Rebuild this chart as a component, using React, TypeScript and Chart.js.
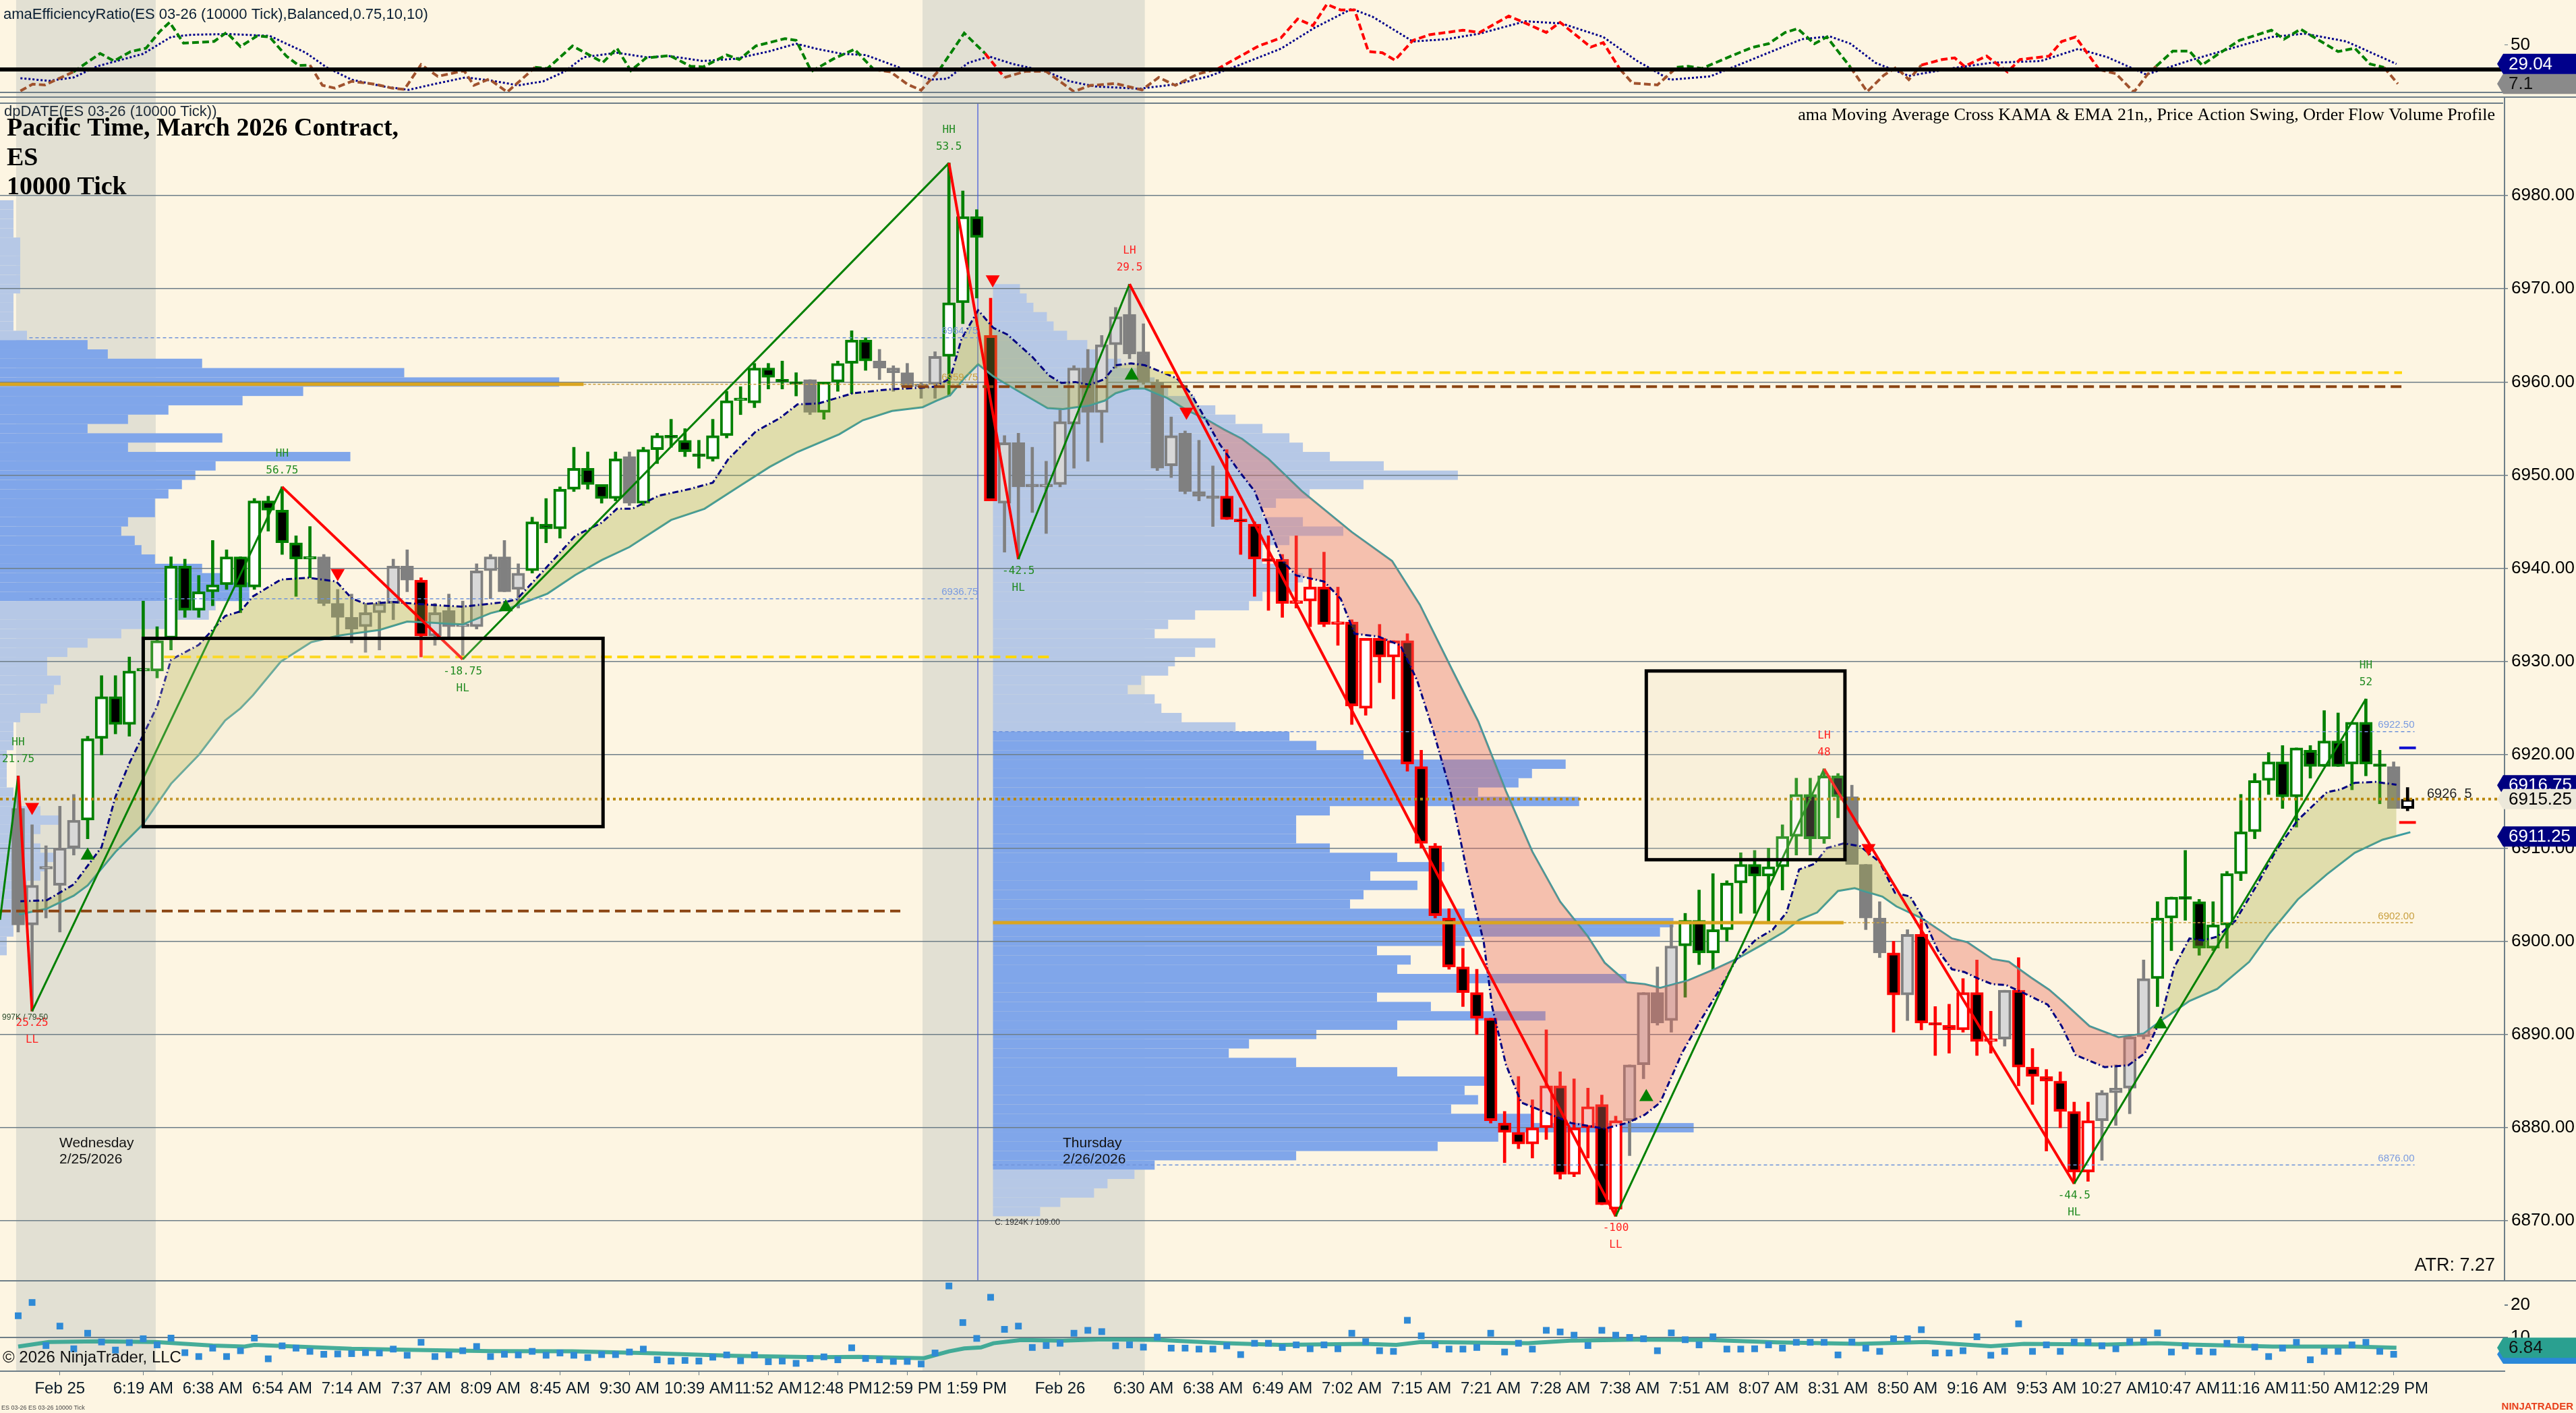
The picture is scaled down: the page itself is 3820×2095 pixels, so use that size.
import React, { useEffect, useRef } from 'react';
import Chart from 'chart.js/auto';

Chart.defaults.font.family = "'Liberation Sans', Arial, sans-serif";

const W = 3820;
const AXIS_W = 106;
const X_MIN = -1.31;
const X_MAX = 178.98;
const BG = '#fdf5e2';
const BAND = '#e2e0d3';
const GRID = '#6e7e88';
const GREEN = '#008000';
const RED = '#ff0000';

// ---- candles (10000 tick bars, ES 03-26) ----
const OPEN = [
  6914.25, 6901.75, 6907.75, 6906, 6910, 6913, 6921.75, 6926.25, 6923.25, 6929,
  6929, 6932.5, 6940.25, 6935.5, 6937.5, 6938.25, 6941.25, 6938, 6947.25, 6946.25,
  6942.75, 6941, 6941.25, 6936.25, 6934.75, 6933.75, 6935.25, 6936.25, 6940.25, 6938.75,
  6932.75, 6935.5, 6933.75, 6933.75, 6939.75, 6941.25, 6937.75, 6939.75, 6944.75, 6944.25,
  6948.5, 6950.75, 6949, 6947.5, 6952, 6947, 6952.75, 6954.25, 6953.75, 6952.25,
  6951.75, 6954.25, 6958, 6957.75, 6961.5, 6960.25, 6960, 6960.25, 6956.75, 6960,
  6962, 6964.5, 6962.25, 6961.5, 6961, 6959.5, 6959.75, 6962.75, 6968.5, 6977.75,
  6965, 6947, 6953.5, 6949, 6948.75, 6949, 6955.5, 6961.5, 6956.75, 6964,
  6967.25, 6963.25, 6960, 6951, 6954.5, 6948.25, 6947.75, 6947.75, 6945.25, 6944.75,
  6941, 6941, 6936.25, 6936.5, 6938, 6934, 6934.25, 6925, 6932.5, 6930.5,
  6932.25, 6918.75, 6910.25, 6902.5, 6897.25, 6894.5, 6891.75, 6880.5, 6879.5, 6878.25,
  6880, 6884.5, 6875, 6880, 6882.5, 6871.25, 6880.75, 6886.75, 6894.5, 6891.5,
  6899.5, 6902.25, 6898.75, 6901.25, 6906.25, 6908.25, 6907, 6908, 6911.25, 6915.75,
  6911, 6917.75, 6915.5, 6908.25, 6902.5, 6898.75, 6894.25, 6900.75, 6891.25, 6891,
  6890.5, 6894.5, 6889.25, 6889.5, 6894.75, 6886.5, 6885.5, 6885, 6881.75, 6875.25,
  6880.75, 6883.75, 6884.25, 6889.75, 6896, 6902.5, 6904.75, 6904.25, 6899.25, 6901.75,
  6907.25, 6911.75, 6917.25, 6919.25, 6915.5, 6920.5, 6918.75, 6921.5, 6919, 6923.5,
  6919, 6918.75, 6914.25,
];
const HIGH = [
  6917.75, 6912.5, 6910.25, 6914.5, 6915.75, 6922, 6928.5, 6928.5, 6930.5, 6936.5,
  6933.75, 6941.25, 6941, 6939.25, 6943, 6942, 6941.25, 6947.5, 6947.75, 6948.75,
  6943.5, 6944.5, 6941.5, 6937.75, 6937.25, 6936.25, 6936.5, 6941, 6942, 6939,
  6936.25, 6937.25, 6936.5, 6940.5, 6941.5, 6943, 6940.5, 6945.5, 6947.5, 6948.75,
  6953, 6952.5, 6949, 6952.5, 6952.5, 6953, 6954.5, 6956, 6955, 6953.75,
  6956, 6959, 6959.5, 6962, 6962, 6962.25, 6961, 6960.25, 6960, 6962.25,
  6965.5, 6964.75, 6963.5, 6961.75, 6962, 6960, 6963.25, 6983.5, 6980.5, 6978.5,
  6969, 6954.25, 6954.5, 6953, 6951.5, 6957, 6961.75, 6963.5, 6965, 6968,
  6970.5, 6966.25, 6960.25, 6956.25, 6954.75, 6953.75, 6951, 6952.75, 6946.5, 6945,
  6943.5, 6941.5, 6943.5, 6940, 6941.75, 6938, 6934.5, 6932.5, 6934, 6932.25,
  6933, 6920.5, 6910.5, 6903.5, 6899.25, 6897, 6891.75, 6881.75, 6885.5, 6883,
  6890.5, 6886, 6885.25, 6884.25, 6883.5, 6881.25, 6886.75, 6894.5, 6897.25, 6901.75,
  6903, 6905.5, 6907.25, 6906.5, 6909.5, 6909.75, 6910, 6912.5, 6917.5, 6917.5,
  6918.5, 6918, 6916.75, 6908.25, 6904.25, 6900, 6901.25, 6902.5, 6893, 6893.25,
  6896, 6898, 6892.5, 6894.75, 6898.25, 6888.5, 6886.25, 6886, 6882.75, 6882.75,
  6884, 6886.75, 6890, 6898, 6904.25, 6904.75, 6909.75, 6904.5, 6904.25, 6907.5,
  6915.75, 6918, 6920.25, 6921, 6920.75, 6921, 6924.75, 6924.5, 6923.5, 6926,
  6920.5, 6919.25, 6916.5,
];
const LOW = [
  6901, 6892.5, 6902.5, 6901, 6909.25, 6911, 6920, 6922.25, 6922, 6928.5,
  6928.25, 6931.25, 6934.75, 6934.75, 6936, 6937.75, 6935.25, 6937.75, 6944, 6941.5,
  6937, 6939, 6936, 6932.75, 6932, 6931, 6931.25, 6934.5, 6937.5, 6930.5,
  6931.75, 6932.5, 6930.25, 6933.5, 6936.75, 6937.5, 6935.75, 6939.5, 6942.75, 6943.25,
  6948.25, 6948.5, 6947, 6947.25, 6946.75, 6946.75, 6951.25, 6953, 6952, 6950.75,
  6951.5, 6954, 6956.5, 6957.25, 6959.25, 6959.25, 6958.5, 6956.5, 6956, 6959,
  6958.75, 6961.25, 6960.25, 6959, 6959.25, 6958.25, 6958.25, 6958.5, 6966.25, 6969,
  6947.25, 6941.75, 6941, 6946, 6943.75, 6948.75, 6950.75, 6951.5, 6953.5, 6961.5,
  6962.5, 6959.75, 6950.5, 6949.75, 6948, 6947.25, 6944.5, 6945.25, 6941.5, 6937,
  6935.5, 6934.75, 6935.75, 6933.75, 6933.75, 6931.75, 6923.25, 6924.25, 6927.75, 6926,
  6918.25, 6910, 6902.5, 6897, 6893, 6890, 6880.5, 6876.25, 6877.75, 6876.75,
  6878.75, 6874.5, 6874.75, 6876.75, 6871.75, 6870.5, 6877, 6885.25, 6891, 6890.25,
  6894, 6897.5, 6897, 6900, 6903, 6903, 6902, 6905.5, 6909.25, 6909.25,
  6910.5, 6913.25, 6908.25, 6901.25, 6898.25, 6890.25, 6891.5, 6890.5, 6887.75, 6888,
  6890.25, 6887.75, 6888, 6888.75, 6884.5, 6882.5, 6877.5, 6880, 6874, 6874.25,
  6876.5, 6880.25, 6881.5, 6889.5, 6893, 6899, 6902.25, 6898.5, 6899, 6899.25,
  6906.5, 6911, 6915.75, 6914.25, 6912.25, 6917.5, 6918.75, 6918.75, 6916.25, 6917.75,
  6914.75, 6914.25, 6914,
];
const CLOSE = [
  6901.75, 6906, 6908, 6910, 6913, 6921.75, 6926.25, 6923.25, 6929, 6929.25,
  6932.25, 6940.25, 6935.5, 6937.5, 6938.25, 6941.25, 6938, 6947.25, 6946.25, 6942.75,
  6941, 6941.25, 6936.25, 6934.75, 6933.5, 6935.25, 6936.25, 6940.25, 6938.75, 6932.75,
  6935.25, 6933.75, 6934, 6939.75, 6941.25, 6937.5, 6939.5, 6945, 6944.25, 6948.5,
  6950.75, 6949, 6947.5, 6951.75, 6947, 6952.75, 6954.25, 6954, 6952.5, 6952,
  6954.25, 6958, 6958.25, 6961.5, 6960.5, 6960, 6959.75, 6956.75, 6960, 6962,
  6964.5, 6962.25, 6961.5, 6961, 6959.5, 6959.75, 6962.75, 6968.5, 6977.75, 6975.5,
  6947.25, 6953.5, 6948.75, 6948.75, 6949, 6955.75, 6961.5, 6956.75, 6964, 6967,
  6963, 6960, 6950.75, 6954.25, 6948.25, 6947.75, 6947.5, 6945.25, 6945, 6941,
  6940.75, 6936.25, 6936.5, 6938, 6934, 6934.25, 6925.25, 6932.5, 6930.5, 6932.25,
  6919, 6910.5, 6902.75, 6897.25, 6894.5, 6891.75, 6880.75, 6879.5, 6878.25, 6880,
  6884.5, 6875, 6880, 6882.25, 6871.75, 6880.75, 6886.75, 6894.5, 6891.25, 6899.5,
  6902.25, 6898.75, 6901.25, 6906.25, 6908.25, 6907, 6908, 6911.25, 6915.75, 6911,
  6917.75, 6915.5, 6908.25, 6902.5, 6898.75, 6894.25, 6900.75, 6891.25, 6891, 6890.5,
  6894.5, 6889.25, 6889.5, 6894.75, 6886.5, 6885.5, 6885, 6881.75, 6875.25, 6880.75,
  6883.75, 6884.25, 6889.75, 6896, 6902.5, 6904.75, 6904.5, 6899.25, 6901.75, 6907.25,
  6911.75, 6917.25, 6919.25, 6915.5, 6920.75, 6918.75, 6921.5, 6918.75, 6923.5, 6919,
  6918.75, 6914.25, 6915.25,
];
// candle colour state per bar: g = up swing, r = down swing, n = neutral, k = live bar
const TREND = [
  'nnnnn', 'ggggggggggggggggg', 'nnnnnnn', 'r', 'nnnnnnn', 'ggggggg', 'n', 'gggggggggggg', 'n', 'gggg',
  'nnnnn', 'ggg', 'r', 'nnnnnnnnnnnnnnnn', 'rrrrrrrrrrrrrrrrrrrrrrrrrrrrr', 'nnnn', 'gggggggggggg', 'nnn', 'r', 'n',
  'rrrrrr', 'n', 'rrrrrr', 'nnnn', 'ggggggggggggggggg', 'n', 'k',
].join('');

// ---- KAMA / EMA 21 (bar, price) ----
const KAMA = [
  [0.16, 6904.3], [2.05, 6904.4], [4, 6906.1], [6, 6910.1], [7, 6915.5], [8, 6919.1], [10, 6925.2], [11, 6930.2],
  [13, 6931.8], [14.9, 6934.9], [16, 6935.4], [16.9, 6937], [18.9, 6938.8], [20.9, 6939], [22.9, 6938.6], [24, 6936.8],
  [25, 6936.2], [27, 6936.4], [29.6, 6936.1], [32, 6935.9], [35.1, 6936.4], [35.9, 6936.7], [37.9, 6939.9], [40.1, 6943.5],
  [42, 6944.9], [43.1, 6946.4], [44.2, 6946.4], [46.1, 6947.8], [48.3, 6948.5], [50, 6949.2], [51.1, 6951.7], [53.1, 6954.7],
  [54.8, 6956.1], [56.1, 6957.6], [57.6, 6957.7], [60.1, 6958.8], [62.6, 6959.2], [65.1, 6959.4], [66, 6959.5], [67.1, 6960.4],
  [67.9, 6964.6], [69.1, 6967.7], [70.2, 6965.8], [71.2, 6965.1], [73, 6962.7], [74.2, 6960.7], [75.1, 6959.9], [76.1, 6960],
  [77.1, 6959.7], [78.2, 6960.3], [79, 6961.8], [80.1, 6962], [81.1, 6961.8], [82.1, 6961.2], [83.4, 6960.4], [84.4, 6958.8],
  [85.4, 6956.2], [86.5, 6953.3], [87.9, 6950.4], [89, 6948.3], [91, 6940.8], [92, 6939.25], [94, 6938.6], [95.2, 6936.75],
  [96.2, 6933], [97.9, 6932.7], [99.5, 6931.75], [100.7, 6928], [101.9, 6922.4], [103.1, 6916.1], [104.3, 6907.4], [105.5, 6899.9],
  [106.1, 6893], [107.1, 6886.75], [108.2, 6882.7], [109.8, 6881.75], [111.8, 6880.5], [114.2, 6879.9], [115.8, 6880.5], [117.1, 6881.4],
  [118.2, 6882.7], [119.8, 6888.1], [121.1, 6891.5], [122.3, 6894.4], [123.7, 6898.1], [125.1, 6900.2], [126.3, 6901.25], [127.3, 6903.1],
  [128.2, 6907.7], [129.3, 6908.3], [130.2, 6910], [131.4, 6910.5], [132.6, 6910.2], [134, 6908.5], [135.1, 6905.2], [136.2, 6904.8],
  [137.2, 6902.3], [138.2, 6899], [139.2, 6897], [140.1, 6896.7], [141.1, 6896], [142.1, 6895.4], [143.1, 6895.3], [144.3, 6894.5],
  [146.1, 6893.2], [147.1, 6890.9], [148.1, 6887.8], [150.2, 6886.5], [151.9, 6886.7], [153.1, 6888], [154.2, 6891.5], [155.2, 6897.2],
  [156.3, 6900.3], [157.3, 6900.1], [158.3, 6900.5], [159.6, 6902.2], [161.1, 6905.9], [162.6, 6909.9], [164.1, 6913], [166.2, 6916],
  [167.2, 6916.3], [168.2, 6917], [169.7, 6917.1], [171.2, 6916.8],
];
const EMA = [
  [0.07, 6902.9], [2.05, 6903.5], [4, 6904.9], [5, 6906], [7, 6909.6], [9, 6912.6], [11, 6916.9], [13, 6920],
  [14.9, 6923.7], [16, 6925], [16.9, 6926.4], [18.9, 6930], [21.1, 6932.1], [23.1, 6932.8], [25, 6933.2], [26, 6933.4],
  [28, 6934.3], [29.6, 6934.2], [32, 6934], [34, 6935.2], [35.3, 6935.7], [38.1, 6937.3], [40.1, 6939.3], [42, 6940.9],
  [44, 6942.3], [47, 6945.2], [49.4, 6946.4], [52, 6948.9], [54.1, 6950.9], [56.1, 6952.5], [59.1, 6954.4], [60.8, 6955.9],
  [62.9, 6956.9], [65.1, 6957.3], [66.1, 6958], [67.1, 6958.6], [68.1, 6960.4], [69.1, 6961.9], [70.2, 6960.6], [71.9, 6959.1],
  [74.1, 6957.2], [75.2, 6957.1], [77.1, 6957.5], [78.2, 6958], [79, 6958.8], [80.1, 6959.3], [81.1, 6959.3], [82.7, 6958.3],
  [84.1, 6957], [85.4, 6956.1], [86.8, 6954.9], [88.1, 6953.9], [90, 6951.75], [92.4, 6948.3], [96, 6943.9], [98.9, 6940.8],
  [100.9, 6936.1], [103.3, 6928.9], [105.1, 6923.6], [107.1, 6916.1], [109, 6909.6], [111, 6904.25], [113, 6900.5], [114.2, 6897.7],
  [115.8, 6895.6], [117.1, 6895.4], [118.2, 6895], [120.2, 6895.8], [122.1, 6897], [123.7, 6898.1], [125.5, 6899.6], [127.1, 6901],
  [128.2, 6902.3], [129.5, 6903.1], [131, 6905.4], [132.2, 6905.7], [134.2, 6904.8], [135.2, 6903.75], [137, 6902.5], [139.2, 6900.3],
  [140.3, 6899.9], [142.1, 6898.1], [143.3, 6897.8], [144.9, 6896.1], [146.2, 6894.8], [147.2, 6893.5], [149.1, 6890.9], [151.2, 6889.7],
  [153, 6890.1], [154.5, 6891.75], [156.3, 6893.6], [158.3, 6894.9], [160.6, 6897.8], [162.1, 6900.9], [164.1, 6904.5], [166.2, 6907.2],
  [168.2, 6909.5], [170.2, 6910.9], [172.2, 6911.7],
];

// ---- price action swing ----
const SWING_X = [-1.31, 0, 1, 19, 32, 67, 72, 80, 115, 130, 148, 169];
const SWING_Y = [6902.3, 6917.75, 6892.5, 6948.75, 6930.25, 6983.5, 6941, 6970.5, 6870.5, 6918.5, 6874, 6926];
const SWING_TYPE = ['', 'HH', 'LL', 'HH', 'HL', 'HH', 'HL', 'LH', 'LL', 'LH', 'HL', 'HH'];
const SWING_SIZE = ['', '21.75', '25.25', '56.75', '-18.75', '53.5', '-42.5', '29.5', '-100', '48', '-44.5', '52'];
const DOWN_TRI_X = [1, 23, 70.15, 84.1, 133.2];
const DOWN_TRI_Y = [6914.4, 6939.5, 6971, 6956.8, 6910];
const UP_TRI_X = [5, 35.1, 80.15, 117.2, 154.2];
const UP_TRI_Y = [6909.2, 6935.85, 6960.7, 6883.3, 6891.1];

// ---- order flow volume profiles (1 pt rows, top price downward) ----
const FEB25_TOP = 6979;
const FEB25_VOLS = [
  2, 2, 2, 2, 3, 3, 3, 3, 3, 3, 2, 2, 2, 2, 4, 13, 16, 30, 60, 83,
  45, 36, 25, 19, 13, 33, 19, 52, 32, 29, 27, 25, 23, 23, 19, 18, 20, 21, 23, 30,
  33, 37, 37, 32, 31, 25, 18, 13, 10, 7, 7, 9, 8, 7, 6, 3, 2, 2, 2, 1,
  1, 1, 1, 2, 3, 6, 9, 6, 5, 6, 8, 7, 6, 4, 3, 3, 2, 2, 2, 1, 1,
];
const FEB25_VA = [6936.75, 6964.75];
const FEB26_TOP = 6970;
const FEB26_VOLS = [
  4, 5, 6, 8, 9, 11, 14, 16, 19, 22, 24, 26, 30, 33, 36, 40, 44, 46, 50, 58,
  69, 55, 47, 42, 40, 46, 52, 44, 40, 40, 43, 46, 45, 40, 38, 30, 26, 24, 33, 30,
  27, 26, 22, 20, 24, 25, 28, 36, 44, 48, 55, 85, 80, 78, 72, 87, 50, 45, 45, 45,
  50, 60, 67, 56, 63, 55, 53, 70, 101, 99, 70, 57, 62, 60, 94, 70, 57, 65, 82, 60,
  48, 38, 35, 45, 60, 73, 70, 72, 68, 80, 104, 75, 66, 45, 24, 21, 17, 15, 10, 7,
];
const FEB26_VA = [6876, 6922.5];
const PROFILE_ORIGINS = [X_MIN, 70.17];
const VOL_TO_BARS = 0.485;

// level lines: [price, fromBar, toBar]
const POC_LINES = [[6959.75, X_MIN, 40.7], [6902, 70.17, 131.4]];
const POC_TAILS = [[6959.75, 40.7, 69.1], [6902, 131.4, 172.5]];
const VA_LINES = [[6964.75, 0.8, 69.1], [6936.75, 0.8, 69.1], [6922.5, 70.17, 172.5], [6876, 70.17, 172.5]];
const SETTLE_LINES = [[6903.25, X_MIN, 63.5], [6959.5, 63.6, 171.6]];
const OPEN_LINES = [[6930.5, 10.5, 74.4], [6961, 82.5, 171.6]];
const LAST_PRICE = 6915.25;
const ASK_LINE = [6920.75, 171.4, 172.6];
const BID_LINE = [6912.75, 171.4, 172.6];
const RECT_BOXES = [[9, 6932.5, 42.1, 6912.3], [117.2, 6929, 131.5, 6908.75]];
const SESSION_BANDS = [[-0.15, 9.9], [65.1, 81.1]];
const SESSION_BREAK = 69.08;
const PRICE_TICKS = [6870, 6880, 6890, 6900, 6910, 6920, 6930, 6940, 6950, 6960, 6970, 6980];

// ---- efficiency ratio (bar, value) ----
const ER = [
  [0.16, -0.9], [1.04, 6.6], [1.93, 5.8], [3.98, 20.3], [5.9, 40.7], [6.9, 32.3], [8.1, 42.8], [9.2, 46.5], [10.2, 65.2], [10.9, 75.2],
  [11.9, 52.2], [14.1, 54], [15, 64], [16, 48.3], [17.2, 60.2], [18.1, 59], [19.3, 37.8], [20.2, 27.3], [21, 27.8], [21.9, 5.3],
  [22.8, 2.3], [24, 9.8], [25.7, 6.6], [26.9, 2.3], [27.8, 0.8], [29, 28.3], [30.2, 15.3], [32.1, 21.6], [32.8, 5.3], [33.9, 12.3],
  [35.2, -2.1], [36.3, 12.8], [37.2, 25.3], [38.1, 24], [39.9, 49], [42.1, 30.8], [43.1, 46.5], [44.1, 21.6], [45.2, 35.8], [46.9, 38.3],
  [48.4, 26.5], [49.3, 25.8], [51, 39], [51.9, 34], [53.1, 49], [55.2, 57.2], [56, 55.2], [57.1, 20.8], [58.7, 34.8], [60.2, 45.3],
  [61.6, 22.8], [62.8, 20.3], [64, 6.6], [65, -0.1], [66.3, 22.3], [68.1, 63.2], [69.6, 40.8], [71, 14.1], [72.5, 20.8], [74, 20.8],
  [76, -1.6], [77.2, 5.3], [79, 7.3], [80.9, 0.3], [82.1, 14.1], [83.3, 5.3], [84.9, 17.8], [86.3, 23.3], [89.3, 49], [90.9, 58],
  [92.1, 79], [93.2, 71.5], [94.2, 95.2], [95.2, 88.9], [96.2, 88.9], [97.2, 42.8], [98.2, 41.5], [99.1, 33.3], [100.4, 55.2], [101.6, 61.5],
  [104, 66.5], [105.2, 64], [107.3, 82.2], [108.2, 76.4], [110, 64], [111, 75.2], [112, 62.7], [113.2, 47.8], [114.1, 52.8], [115.3, 23.3],
  [116.2, 7.8], [118, 5.8], [119.4, 25.3], [120.2, 26.5], [121.2, 24], [123.3, 37.8], [124.8, 47.3], [126, 51.5], [127.2, 64], [128.1, 68.2],
  [129.3, 51.5], [130.2, 59], [131.9, 25.3], [133.1, -1.6], [134.3, 16.6], [135.2, 25.3], [136.1, 11.6], [137, 27.8], [138.5, 34], [139.4, 35.8],
  [140.1, 26.5], [141.7, 37.8], [143.2, 20.3], [144.1, 34], [146.2, 37.8], [147.1, 54], [148.1, 59], [149.8, 22.8], [151, 18.3], [152.3, -2.1],
  [153.3, 17.8], [153.9, 26.5], [155.1, 43.3], [156.3, 43.3], [157.2, 27.8], [158.4, 40.3], [159.9, 55.2], [162.2, 66.5], [163.1, 56.5], [164.3, 67.7],
  [165.5, 56.5], [167, 42.8], [168.2, 46.5], [169.3, 29], [170.3, 25.3], [171.3, 7.1],
];
const ER_SIGNAL = [
  [0.16, 13.3], [2.2, 10.3], [4, 14.1], [5.7, 26.5], [9, 40.3], [11, 59], [12.5, 61.5], [15.2, 62.2], [18.1, 60.2], [20.7, 41.5],
  [22.2, 25.3], [24, 11.6], [26.3, 4.1], [28.1, 0.3], [29.9, 6.6], [32.2, 14.1], [34, 10.8], [36, 5.3], [37.8, 9.8], [39.3, 20.3],
  [40.7, 36.5], [43.1, 41.5], [45.2, 36.5], [46.9, 37.8], [49.3, 32.3], [51.6, 34.8], [54, 42.8], [56, 51.5], [57.5, 45.8], [59.3, 40.3],
  [61, 39], [63.4, 25.3], [65.7, 11.6], [66.9, 12.8], [68.4, 30.3], [69.9, 37.3], [71.6, 29], [74, 20.8], [75.7, 9.8], [77.5, 4.1],
  [80.7, 1.6], [83.4, 6.6], [85.7, 15.3], [88.1, 29], [90.9, 46], [93.3, 69], [96, 90.2], [97.5, 81.4], [100.4, 54], [102.8, 56.5],
  [105.2, 62.7], [108.5, 76.4], [111.1, 74], [114.1, 59], [116.5, 32.8], [118.9, 11.6], [121.8, 15.3], [124.8, 34], [128.4, 56.5], [130.4, 59.7],
  [131.9, 51.5], [133.7, 30.3], [136.1, 15.8], [139.1, 24], [142, 30.3], [145.6, 32.3], [148.3, 45.8], [150.4, 36.5], [153.2, 17.3], [156.3, 32.8],
  [159.9, 49], [162.2, 59], [164.6, 62.7], [167.6, 54], [171.2, 29.04],
];
const ER_LEVEL = 23;
const ER_DOWN = [[28.5, 30.5], [69, 71.5], [85.5, 115.5], [134.8, 150]];

// ---- lower panel: bar range marks and average ----
const RANGE_MARKS = [
  16.7, 20.8, 7.5, 13.5, 6.5, 11.3, 8.6, 6.1, 8.4, 9.6, 7.7, 9.8, 5.3, 4.1, 6.7, 4.1, 5.9, 9.8, 3.4, 7.4,
  6.7, 5.7, 4.8, 4.9, 5.0, 5.3, 5.2, 6.4, 4.5, 8.5, 4.1, 4.6, 5.9, 7.2, 4.1, 4.8, 4.6, 5.7, 4.5, 5.2,
  4.5, 3.8, 4.7, 4.7, 5.5, 6.4, 3.1, 2.7, 2.9, 2.7, 3.9, 4.6, 2.8, 4.6, 2.5, 2.7, 2.0, 3.5, 4.0, 3.1,
  6.8, 3.5, 3.1, 2.6, 2.6, 1.8, 5.2, 25.9, 14.6, 9.7, 22.4, 12.5, 13.5, 6.9, 7.5, 8.2, 11.3, 12.2, 11.8, 7.4,
  7.7, 7.0, 10.1, 6.7, 6.7, 6.4, 6.4, 7.4, 4.7, 8.2, 8.2, 6.9, 7.7, 6.5, 7.7, 6.5, 11.3, 8.7, 5.9, 5.7,
  15.3, 10.5, 7.7, 6.4, 6.4, 6.9, 11.3, 5.5, 8.2, 6.4, 12.2, 11.7, 10.7, 7.5, 12.2, 10.7, 10.0, 9.6, 5.9, 11.4,
  9.3, 7.7, 10.2, 6.4, 6.4, 6.5, 7.7, 6.7, 8.5, 8.5, 8.5, 4.6, 8.6, 6.7, 5.7, 9.6, 9.6, 12.4, 5.2, 5.2,
  5.9, 10.2, 4.5, 5.7, 14.2, 5.7, 7.7, 5.7, 8.6, 8.6, 7.4, 6.5, 8.7, 8.7, 11.4, 5.5, 7.4, 5.7, 5.5, 8.2,
  9.3, 7.0, 4.1, 6.7, 8.5, 3.1, 5.7, 5.7, 7.7, 8.5, 5.7, 4.8,
];
const RANGE_AVG = [
  [0, 7.2], [2.2, 8.6], [5.7, 8.8], [9.9, 8.6], [14, 7.5], [16.3, 7.2], [17, 7.7], [24, 6.5], [29.3, 6.1], [34, 5.8],
  [39.9, 5.7], [45.8, 5.1], [51.6, 4.3], [57.5, 3.9], [60.5, 4.0], [65.2, 3.6], [67, 5.7], [68.1, 6.6], [69.3, 6.9], [70.2, 8.2],
  [72.2, 9.2], [75.2, 9.0], [78.1, 9.4], [82.2, 9.2], [86.9, 8.2], [90.9, 7.7], [96.9, 8.0], [99.2, 7.7], [101, 8.6], [108.7, 8.2],
  [111.7, 9.0], [116.5, 9.3], [121.8, 9.2], [126.6, 8.5], [132.5, 8.0], [137.3, 8.6], [142, 7.3], [144.4, 8.0], [150.4, 7.8], [154, 8.2],
  [156.3, 7.8], [162.3, 7.2], [168.2, 7.2], [171.2, 6.84],
];

const TIME_TICK_X = [3, 9, 14, 19, 24, 29, 34, 39, 44, 49, 54, 59, 64, 69, 75, 81, 86, 91, 96, 101, 106, 111, 116, 121, 126, 131, 136, 141, 146, 151, 156, 161, 166, 171];
const TIME_TICK_LABELS = [
  'Feb 25', '6:19 AM', '6:38 AM', '6:54 AM', '7:14 AM', '7:37 AM', '8:09 AM', '8:45 AM', '9:30 AM', '10:39 AM',
  '11:52 AM', '12:48 PM', '12:59 PM', '1:59 PM', 'Feb 26', '6:30 AM', '6:38 AM', '6:49 AM', '7:02 AM', '7:15 AM',
  '7:21 AM', '7:28 AM', '7:38 AM', '7:51 AM', '8:07 AM', '8:31 AM', '8:50 AM', '9:16 AM', '9:53 AM', '10:27 AM',
  '10:47 AM', '11:16 AM', '11:50 AM', '12:29 PM',
];

// ---------------- helpers ----------------
const fitAxis = (s: any) => {
  s.width = AXIS_W;
  s.paddingTop = 0;
  s.paddingBottom = 0;
};

const xScale = (display: boolean, extra: any = {}) => ({
  type: 'linear',
  min: X_MIN,
  max: X_MAX,
  display,
  offset: false,
  grid: { display: false },
  ...extra,
});

const baseOptions = (padding: any) => ({
  responsive: true,
  maintainAspectRatio: false,
  animation: false,
  devicePixelRatio: 1,
  events: [],
  layout: { padding, autoPadding: false },
  plugins: { legend: { display: false }, tooltip: { enabled: false } },
});

const bandsPlugin = (full: boolean) => ({
  id: 'bands',
  beforeDraw(chart: any) {
    const { ctx, chartArea: a, scales } = chart;
    const x = scales.x;
    ctx.save();
    ctx.fillStyle = BAND;
    SESSION_BANDS.forEach(([s, e]) => {
      const x0 = Math.max(a.left, x.getPixelForValue(s));
      const x1 = Math.min(a.right, x.getPixelForValue(e));
      if (full) ctx.fillRect(x0, 0, x1 - x0, chart.height);
      else ctx.fillRect(x0, a.top, x1 - x0, a.bottom - a.top);
    });
    ctx.restore();
  },
});

function tag(ctx: any, y: number, text: string, bg: string, fg: string, h = 30) {
  const x = W - AXIS_W - 2;
  ctx.save();
  ctx.beginPath();
  ctx.moveTo(x - 9, y);
  ctx.lineTo(x, y - h / 2);
  ctx.lineTo(W, y - h / 2);
  ctx.lineTo(W, y + h / 2);
  ctx.lineTo(x, y + h / 2);
  ctx.closePath();
  ctx.fillStyle = bg;
  ctx.fill();
  ctx.fillStyle = fg;
  ctx.font = "26px 'Liberation Sans'";
  ctx.textAlign = 'left';
  ctx.textBaseline = 'middle';
  ctx.fillText(text, x + 8, y + 1);
  ctx.restore();
}

function text(ctx: any, s: string, x: number, y: number, font: string, color: string, align = 'left') {
  ctx.save();
  ctx.font = font;
  ctx.fillStyle = color;
  ctx.textAlign = align;
  ctx.textBaseline = 'alphabetic';
  ctx.fillText(s, x, y);
  ctx.restore();
}

const hline = ([p, a, b]: number[], color: string, width: number, dash: number[] = [], order = 8) => ({
  type: 'line',
  data: [{ x: a, y: p }, { x: b, y: p }],
  borderColor: color,
  borderWidth: width,
  borderDash: dash,
  pointRadius: 0,
  order,
});

const pts = (arr: number[][]) => arr.map(([x, y]) => ({ x, y }));

// ---------------- main price panel ----------------
function buildMain() {
  const idx = OPEN.map((_, i) => i);
  const outline = (i: number) => ({ g: GREEN, r: RED, n: '#808080', k: '#000000' } as any)[TREND[i]] || '#808080';
  const fillOf = (i: number) => {
    const up = CLOSE[i] >= OPEN[i];
    const n = TREND[i] === 'n';
    return up ? (n ? '#d8d8d8' : '#ffffff') : n ? '#808080' : '#000000';
  };
  const datasets: any[] = [
    {
      type: 'bar', data: idx.map((i) => ({ x: i, y: [LOW[i], HIGH[i]] })),
      backgroundColor: idx.map(outline), barThickness: 4, grouped: false, order: 20,
    },
    {
      type: 'bar', data: idx.map((i) => ({ x: i, y: [OPEN[i], CLOSE[i]] })),
      backgroundColor: idx.map(fillOf), borderColor: idx.map(outline), borderWidth: 4,
      borderSkipped: false, barThickness: 19, minBarLength: 4, grouped: false, order: 19,
    },
    { type: 'line', data: pts(EMA), borderColor: '#3a9ca0', borderWidth: 3, pointRadius: 0, order: 12 },
  ];
  const emaIndex = 2;
  datasets.push({
    type: 'line', data: pts(KAMA), borderColor: '#000080', borderWidth: 3, borderDash: [9, 4, 2, 4], pointRadius: 0,
    fill: { target: emaIndex, above: 'rgba(165,170,60,0.32)', below: 'rgba(232,105,90,0.38)' }, order: 11,
  });
  POC_LINES.forEach((l) => datasets.push(hline(l, '#daa520', 5)));
  POC_TAILS.forEach((l) => datasets.push(hline(l, '#c9a040', 1.5, [4, 3])));
  VA_LINES.forEach((l) => datasets.push(hline(l, '#6f93da', 1.5, [5, 4])));
  SETTLE_LINES.forEach((l) => datasets.push(hline(l, '#8b4513', 4, [16, 8])));
  OPEN_LINES.forEach((l) => datasets.push(hline(l, '#ffd700', 4, [16, 8])));
  datasets.push(hline([LAST_PRICE, X_MIN, X_MAX], '#b8860b', 4, [4, 5], 6));
  datasets.push(hline(ASK_LINE, '#1010d0', 4, [], 6));
  datasets.push(hline(BID_LINE, '#ff0000', 4, [], 6));
  datasets.push({
    type: 'line', data: SWING_X.map((x, k) => ({ x, y: SWING_Y[k] })), pointRadius: 0, borderWidth: 4, order: 5,
    segment: {
      borderColor: (c: any) => (c.p1.parsed.y >= c.p0.parsed.y ? GREEN : RED),
      borderWidth: (c: any) => (c.p1.parsed.y >= c.p0.parsed.y ? 3 : 4),
    },
  });
  datasets.push({
    type: 'line', showLine: false, data: DOWN_TRI_X.map((x, k) => ({ x, y: DOWN_TRI_Y[k] })),
    pointStyle: 'triangle', pointRotation: 180, pointRadius: 12, pointBackgroundColor: RED, pointBorderWidth: 0, order: 3,
  });
  datasets.push({
    type: 'line', showLine: false, data: UP_TRI_X.map((x, k) => ({ x, y: UP_TRI_Y[k] })),
    pointStyle: 'triangle', pointRadius: 12, pointBackgroundColor: GREEN, pointBorderWidth: 0, order: 3,
  });

  const profilePlugin = {
    id: 'profiles',
    beforeDraw(chart: any) {
      const { ctx, chartArea: a, scales: { x, y } } = chart;
      ctx.save();
      ctx.beginPath();
      ctx.rect(a.left, a.top, a.right - a.left, a.bottom - a.top);
      ctx.clip();
      const draw = (top: number, vols: number[], origin: number, va: number[]) => {
        vols.forEach((v, k) => {
          const p = top - k;
          const y0 = y.getPixelForValue(p + 0.5);
          const y1 = y.getPixelForValue(p - 0.5);
          const x0 = x.getPixelForValue(origin);
          const x1 = x.getPixelForValue(origin + v * VOL_TO_BARS);
          ctx.fillStyle = p >= va[0] && p <= va[1] ? '#80a6ea' : '#b6c8e6';
          ctx.fillRect(x0, y0, x1 - x0, y1 - y0);
        });
      };
      draw(FEB25_TOP, FEB25_VOLS, PROFILE_ORIGINS[0], FEB25_VA);
      draw(FEB26_TOP, FEB26_VOLS, PROFILE_ORIGINS[1], FEB26_VA);
      ctx.restore();
    },
    beforeDatasetsDraw(chart: any) {
      const { ctx, chartArea: a, scales: { x } } = chart;
      const px = x.getPixelForValue(SESSION_BREAK);
      ctx.save();
      ctx.strokeStyle = 'rgba(70,90,220,0.85)';
      ctx.lineWidth = 1.5;
      ctx.beginPath();
      ctx.moveTo(px, 8);
      ctx.lineTo(px, a.bottom);
      ctx.stroke();
      ctx.restore();
    },
    afterDatasetsDraw(chart: any) {
      const { ctx, chartArea: a, scales: { x, y } } = chart;
      ctx.save();
      ctx.beginPath();
      ctx.rect(a.left, a.top, a.right - a.left, a.bottom - a.top);
      ctx.clip();
      RECT_BOXES.forEach(([x0, y0, x1, y1]) => {
        const l = x.getPixelForValue(x0), r = x.getPixelForValue(x1);
        const t = y.getPixelForValue(y0), b = y.getPixelForValue(y1);
        ctx.fillStyle = 'rgba(235,222,190,0.22)';
        ctx.fillRect(l, t, r - l, b - t);
        ctx.strokeStyle = '#000';
        ctx.lineWidth = 5;
        ctx.strokeRect(l, t, r - l, b - t);
      });
      ctx.font = "16px 'DejaVu Sans Mono'";
      ctx.textAlign = 'center';
      ctx.textBaseline = 'middle';
      SWING_X.forEach((sx, k) => {
        const t = SWING_TYPE[k];
        if (!t) return;
        const px = x.getPixelForValue(sx);
        const py = y.getPixelForValue(SWING_Y[k]);
        ctx.fillStyle = t === 'HH' || t === 'HL' ? '#1f8a1f' : '#ff2020';
        if (t[1] === 'H') {
          ctx.fillText(SWING_SIZE[k], px, py - 24);
          ctx.fillText(t, px, py - 49);
        } else {
          ctx.fillText(SWING_SIZE[k], px, py + 18);
          ctx.fillText(t, px, py + 43);
        }
      });
      ctx.font = "15px 'Liberation Sans'";
      ctx.textAlign = 'right';
      ctx.textBaseline = 'bottom';
      const lab = (bar: number, p: number, s: string, c: string) => {
        ctx.fillStyle = c;
        ctx.fillText(s, x.getPixelForValue(bar), y.getPixelForValue(p) - 2);
      };
      lab(69.1, 6964.75, '6964.75', '#7a9be0');
      lab(69.1, 6959.75, '6959.75', '#c9a040');
      lab(69.1, 6936.75, '6936.75', '#7a9be0');
      lab(172.5, 6922.5, '6922.50', '#7a9be0');
      lab(172.5, 6902, '6902.00', '#c9a040');
      lab(172.5, 6876, '6876.00', '#7a9be0');
      ctx.textAlign = 'left';
      ctx.font = "12px 'Liberation Sans'";
      ctx.fillStyle = '#333';
      ctx.fillText('C: 1924K / 109.00', x.getPixelForValue(70.3), y.getPixelForValue(6869.4));
      ctx.fillStyle = '#2a4a2a';
      ctx.fillText('997K / 79.50', 3, y.getPixelForValue(6891.4));
      ctx.restore();
    },
    afterDraw(chart: any) {
      const { ctx, scales: { y } } = chart;
      ctx.save();
      ctx.strokeStyle = GRID;
      ctx.lineWidth = 2;
      ctx.beginPath();
      ctx.moveTo(0, 8);
      ctx.lineTo(W - AXIS_W - 2, 8);
      ctx.stroke();
      ctx.restore();
      text(ctx, 'dpDATE(ES 03-26 (10000 Tick))', 6, 27, "22px 'Liberation Sans'", '#1b2836');
      text(ctx, 'Pacific Time, March 2026 Contract,', 10, 56, "bold 38px 'Liberation Serif'", '#000');
      text(ctx, 'ES', 10, 100, "bold 38px 'Liberation Serif'", '#000');
      text(ctx, '10000 Tick', 10, 143, "bold 38px 'Liberation Serif'", '#000');
      text(ctx, 'ama Moving Average Cross KAMA & EMA 21n,, Price Action Swing, Order Flow Volume Profile', 3700, 33,
        "26px 'Liberation Serif'", '#000', 'right');
      text(ctx, 'Wednesday', 88, 1556, "21px 'Liberation Sans'", '#111');
      text(ctx, '2/25/2026', 88, 1580, "21px 'Liberation Sans'", '#111');
      text(ctx, 'Thursday', 1576, 1556, "21px 'Liberation Sans'", '#111');
      text(ctx, '2/26/2026', 1576, 1580, "21px 'Liberation Sans'", '#111');
      text(ctx, 'ATR: 7.27', 3700, 1739, "27px 'Liberation Sans'", '#111', 'right');
      text(ctx, '6926  5', 3599, 1038, "20px 'Liberation Sans'", '#222');
      tag(ctx, y.getPixelForValue(6916.75), '6916.75', '#000080', '#fff');
      tag(ctx, y.getPixelForValue(6911.25), '6911.25', '#000080', '#fff');
      tag(ctx, y.getPixelForValue(LAST_PRICE), '6915.25', '#ece8da', '#000');
    },
  };

  return {
    type: 'bar',
    data: { datasets },
    options: {
      ...baseOptions(0),
      scales: {
        x: xScale(false),
        y: {
          position: 'right', min: 6863.65, max: 6990.49,
          afterBuildTicks: (s: any) => { s.ticks = PRICE_TICKS.map((value) => ({ value })); },
          afterFit: fitAxis,
          ticks: { callback: (v: any) => Number(v).toFixed(2), color: '#000', font: { size: 26 }, padding: 5 },
          grid: { color: GRID, lineWidth: 1.5, tickLength: 5 },
          border: { color: GRID, width: 2 },
        },
      },
    },
    plugins: [bandsPlugin(true), profilePlugin],
  };
}

// ---------------- efficiency ratio panel ----------------
function buildTop() {
  const datasets: any[] = [
    { type: 'line', data: [{ x: X_MIN, y: ER_LEVEL }, { x: X_MAX, y: ER_LEVEL }], borderColor: '#000', borderWidth: 6, pointRadius: 0, order: 1 },
    {
      type: 'line', data: pts(ER), borderWidth: 4, borderDash: [10, 5], pointRadius: 0, order: 2,
      segment: {
        borderColor: (c: any) => {
          const mx = (c.p0.parsed.x + c.p1.parsed.x) / 2;
          const v = (c.p0.parsed.y + c.p1.parsed.y) / 2;
          if (v < ER_LEVEL) return '#a0522d';
          return ER_DOWN.some(([a, b]) => mx >= a && mx <= b) ? RED : GREEN;
        },
      },
    },
    { type: 'line', data: pts(ER_SIGNAL), borderColor: '#00008b', borderWidth: 3, borderDash: [3, 3], pointRadius: 0, order: 3 },
  ];
  const deco = {
    id: 'topDeco',
    afterDraw(chart: any) {
      const { ctx, scales: { y } } = chart;
      ctx.save();
      ctx.strokeStyle = GRID;
      ctx.lineWidth = 2;
      [137, 144].forEach((yy) => {
        ctx.beginPath();
        ctx.moveTo(0, yy);
        ctx.lineTo(W, yy);
        ctx.stroke();
      });
      ctx.restore();
      text(ctx, 'amaEfficiencyRatio(ES 03-26 (10000 Tick),Balanced,0.75,10,10)', 5, 28, "22px 'Liberation Sans'", '#0b1f33');
      tag(ctx, y.getPixelForValue(7.1), '7.1', '#8a8a8a', '#111');
      tag(ctx, y.getPixelForValue(29.04), '29.04', '#00008b', '#fff');
    },
  };
  return {
    type: 'line',
    data: { datasets },
    options: {
      ...baseOptions({ bottom: 8 }),
      scales: {
        x: xScale(false),
        y: {
          position: 'right', min: -2.5, max: 100,
          afterBuildTicks: (s: any) => { s.ticks = [{ value: 50 }]; },
          afterFit: fitAxis,
          ticks: { color: '#000', font: { size: 26 }, padding: 4 },
          grid: { drawOnChartArea: false, tickLength: 5, color: GRID },
          border: { display: false },
        },
      },
    },
    plugins: [bandsPlugin(true), deco],
  };
}

// ---------------- lower panel ----------------
function buildBottom() {
  const datasets: any[] = [
    {
      type: 'line', data: pts(RANGE_AVG), borderColor: 'rgba(38,160,140,0.85)', borderWidth: 6, pointRadius: 0, order: 2,
    },
    {
      type: 'line', showLine: false, data: RANGE_MARKS.map((v, i) => ({ x: i, y: v })),
      pointStyle: 'rect', pointRadius: 7, pointBackgroundColor: '#2f8ad6', pointBorderWidth: 0, order: 1,
    },
  ];
  const deco = {
    id: 'botDeco',
    afterDraw(chart: any) {
      const { ctx, scales: { y } } = chart;
      ctx.save();
      ctx.strokeStyle = GRID;
      ctx.lineWidth = 2;
      ctx.beginPath();
      ctx.moveTo(0, 1);
      ctx.lineTo(W, 1);
      ctx.stroke();
      ctx.restore();
      text(ctx, '\u00a9 2026 NinjaTrader, LLC', 4, 122, "24px 'Liberation Sans'", '#111');
      text(ctx, 'NINJATRADER', 3816, 192, "bold 15px 'Liberation Sans'", '#e8401c', 'right');
      text(ctx, 'ES 03-26 ES 03-26 10000 Tick', 2, 192, "9px 'Liberation Sans'", '#444');
      tag(ctx, y.getPixelForValue(4.8), '', '#2a88d8', '#fff', 28);
      tag(ctx, y.getPixelForValue(6.84), '6.84', '#2aa090', '#111');
    },
  };
  return {
    type: 'line',
    data: { datasets },
    options: {
      ...baseOptions(0),
      scales: {
        x: xScale(true, {
          afterBuildTicks: (s: any) => { s.ticks = TIME_TICK_X.map((value) => ({ value })); },
          afterFit: (s: any) => { s.height = 62; s.paddingLeft = 0; s.paddingRight = 0; },
          ticks: {
            autoSkip: false, maxRotation: 0, minRotation: 0, color: '#0a1a28', font: { size: 24 }, padding: 6,
            callback: (v: any) => {
              const k = TIME_TICK_X.indexOf(Number(v));
              return k >= 0 ? TIME_TICK_LABELS[k] : '';
            },
          },
          grid: { display: true, drawOnChartArea: false, tickLength: 6, tickColor: GRID },
          border: { display: true, color: GRID, width: 2 },
        }),
        y: {
          position: 'right', min: -0.42, max: 27.7,
          afterBuildTicks: (s: any) => { s.ticks = [{ value: 10 }, { value: 20 }]; },
          afterFit: fitAxis,
          ticks: { color: '#000', font: { size: 26 }, padding: 4 },
          grid: { color: (c: any) => (c.tick && c.tick.value === 10 ? GRID : 'rgba(0,0,0,0)'), lineWidth: 2, tickLength: 5, tickColor: GRID },
          border: { display: false },
        },
      },
    },
    plugins: [bandsPlugin(false), deco],
  };
}

function Panel({ top, height, build }: { top: number; height: number; build: () => any }) {
  const canvasRef = useRef<HTMLCanvasElement | null>(null);
  useEffect(() => {
    const el = canvasRef.current;
    if (!el) return;
    const chart = new Chart(el, build());
    return () => {
      chart.destroy();
    };
  }, [build]);
  return (
    <div style={{ position: 'absolute', left: 0, top, width: W, height }}>
      <canvas ref={canvasRef} />
    </div>
  );
}

export default function App() {
  return (
    <div style={{ position: 'fixed', left: 0, top: 0, width: W, height: 2095, background: BG, overflow: 'hidden' }}>
      <Panel top={0} height={145} build={buildTop} />
      <Panel top={145} height={1753} build={buildMain} />
      <Panel top={1898} height={197} build={buildBottom} />
    </div>
  );
}
